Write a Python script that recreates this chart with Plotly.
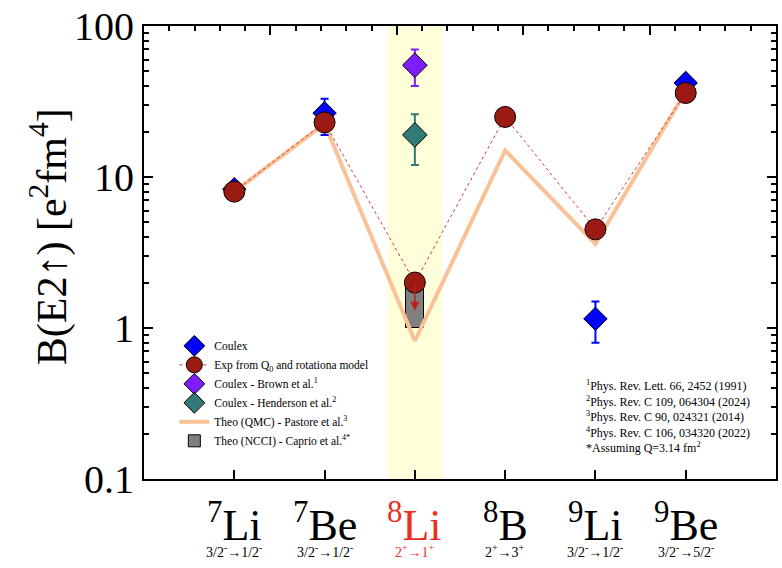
import plotly.graph_objects as go
import math

# ---------------- data ----------------
nuclei = ["<sup>7</sup>Li", "<sup>7</sup>Be", "<sup>8</sup>Li", "<sup>8</sup>B", "<sup>9</sup>Li", "<sup>9</sup>Be"]
transitions = ["3/2<sup>-</sup>→1/2<sup>-</sup>", "3/2<sup>-</sup>→1/2<sup>-</sup>", "2<sup>+</sup>→1<sup>+</sup>",
               "2<sup>+</sup>→3<sup>+</sup>", "3/2<sup>-</sup>→1/2<sup>-</sup>", "3/2<sup>-</sup>→5/2<sup>-</sup>"]
xpos = [1, 2, 3, 4, 5, 6]

coulex = [8.3, 26.5, None, None, 1.15, 42.0]
coulex_err_plus = [0, 6.5, 0, 0, 0.35, 0]
coulex_err_minus = [0, 7.5, 0, 0, 0.35, 0]

exp_q0 = [8.0, 23.0, 2.0, 25.0, 4.5, 36.0]
exp_li8_limit = 1.3

brown_val = [55.0]
brown_err_plus = [15.0]
brown_err_minus = [15.0]

henderson_val = [19.0]
henderson_err_plus = [7.0]
henderson_err_minus = [7.0]

qmc = [8.0, 22.5, 0.82, 15.0, 3.6, 37.0]

ncci_low = [1.0]
ncci_high = [1.95]

top_axis_range = [0, 7]
top_major_step = 1.4
top_minor_step = 0.28

highlight_index = 2

# ---------------- styles ----------------
serif = "Liberation Serif"
blue = "rgb(0,0,255)"
darkred = "rgb(155,27,20)"
purple = "rgb(125,30,250)"
teal = "rgb(50,122,120)"
orange = "rgb(250,192,150)"
red_label = "rgb(235,45,35)"

fig = go.Figure()

hx = xpos[highlight_index]
fig.add_shape(type="rect", xref="x", yref="paper", x0=hx - 0.3, x1=hx + 0.3, y0=0, y1=1,
              fillcolor="rgb(255,255,218)", line=dict(width=0), layer="below")

# QMC (drawn first, behind)
fig.add_trace(go.Scatter(
    x=xpos, y=qmc, mode="lines", name="Theo (QMC) - Pastore et al.<sup>3</sup>", legendrank=5,
    line=dict(color=orange, width=4),
))

# NCCI box
fig.add_trace(go.Bar(
    x=[xpos[highlight_index]], y=[ncci_high[0] - ncci_low[0]], base=ncci_low, width=0.2,
    name="Theo (NCCI) - Caprio et al.<sup>4*</sup>", legendrank=6,
    marker=dict(color="rgb(128,128,128)", line=dict(color="black", width=1)),
))

# Coulex
fig.add_trace(go.Scatter(
    x=xpos, y=coulex, mode="markers", name="Coulex", legendrank=1,
    marker=dict(symbol="diamond", size=18, color=blue, line=dict(color="black", width=1)),
    error_y=dict(type="data", symmetric=False, array=coulex_err_plus, arrayminus=coulex_err_minus,
                 color=blue, thickness=2, width=4),
))

# Exp from Q0
fig.add_trace(go.Scatter(
    x=xpos, y=exp_q0, mode="lines+markers", name="Exp from Q<sub>0</sub> and rotationa model", legendrank=2,
    line=dict(color="rgb(205,60,55)", width=1, dash="dot"),
    marker=dict(symbol="circle", size=21, color=darkred, line=dict(color="black", width=1)),
))

# Brown
fig.add_trace(go.Scatter(
    x=[xpos[highlight_index]], y=brown_val, mode="markers", name="Coulex - Brown et al.<sup>1</sup>", legendrank=3,
    marker=dict(symbol="diamond", size=19, color=purple, line=dict(color="black", width=1)),
    error_y=dict(type="data", symmetric=False, array=brown_err_plus, arrayminus=brown_err_minus,
                 color=purple, thickness=2, width=4),
))

# Henderson
fig.add_trace(go.Scatter(
    x=[xpos[highlight_index]], y=henderson_val, mode="markers", name="Coulex - Henderson et al.<sup>2</sup>",
    legendrank=4,
    marker=dict(symbol="diamond", size=19, color=teal, line=dict(color="black", width=1)),
    error_y=dict(type="data", symmetric=False, array=henderson_err_plus, arrayminus=henderson_err_minus,
                 color=teal, thickness=2, width=4),
))

# trace carrying the top axis
fig.add_trace(go.Scatter(x=top_axis_range, y=[1, 1], xaxis="x2", yaxis="y", mode="lines",
                         line=dict(width=0, color="rgba(0,0,0,0)"), showlegend=False, hoverinfo="skip"))

# upper-limit arrow at 8Li
fig.add_annotation(x=xpos[highlight_index], y=math.log10(exp_li8_limit), ax=xpos[highlight_index],
                   ay=math.log10(exp_q0[highlight_index]), xref="x", yref="y", axref="x", ayref="y",
                   showarrow=True, arrowhead=2, arrowsize=1.2, arrowwidth=1.5, arrowcolor="rgb(190,30,30)",
                   text="")

# x category labels
for i, (nuc, tr) in enumerate(zip(nuclei, transitions)):
    col = red_label if i == highlight_index else "black"
    fig.add_annotation(x=xpos[i], y=-0.095, xref="x", yref="paper", text=nuc, showarrow=False,
                       font=dict(family=serif, size=44, color=col), yanchor="middle")
    fig.add_annotation(x=xpos[i], y=-0.16, xref="x", yref="paper", text=tr, showarrow=False,
                       font=dict(family=serif, size=14, color=col), yanchor="middle")

# y title
fig.add_annotation(x=-0.151, y=0.535, xref="paper", yref="paper", xanchor="center", yanchor="middle",
                   text="B(E2↑) [e<sup>2</sup>fm<sup>4</sup>]",
                   textangle=-90, showarrow=False, font=dict(family=serif, size=42, color="black"))

# references
fig.add_annotation(x=0.696, y=0.137, xref="paper", yref="paper", xanchor="left", yanchor="middle", align="left",
                   text="<sup>1</sup>Phys. Rev. Lett. 66, 2452 (1991)<br><sup>2</sup>Phys. Rev. C 109, 064304 (2024)"
                        "<br><sup>3</sup>Phys. Rev. C 90, 024321 (2014)<br><sup>4</sup>Phys. Rev. C 106, 034320 (2022)"
                        "<br>*Assuming Q=3.14 fm<sup>2</sup>",
                   showarrow=False, font=dict(family=serif, size=12, color="black"))

fig.update_layout(
    width=782, height=568,
    margin=dict(l=144, r=4, t=26, b=89),
    paper_bgcolor="white", plot_bgcolor="white",
    showlegend=True,
    legend=dict(x=0.048, y=0.326, xanchor="left", yanchor="top", bgcolor="rgba(0,0,0,0)",
                font=dict(family=serif, size=11.5, color="black"), traceorder="normal",
                itemsizing="trace", tracegroupgap=0),
    xaxis=dict(range=[0, 7], tickvals=xpos, ticktext=[""] * 6, ticks="inside", ticklen=9, tickwidth=2,
               tickcolor="black", showline=True, linecolor="black", linewidth=2, mirror=False,
               showgrid=False, zeroline=False),
    xaxis2=dict(range=top_axis_range, overlaying="x", side="top", anchor="y", tickmode="linear",
                tick0=top_axis_range[0], dtick=top_major_step, ticks="inside",
                ticklen=9, tickwidth=2, tickcolor="black", showticklabels=False, showline=True,
                linecolor="black", linewidth=2, showgrid=False, zeroline=False,
                minor=dict(dtick=top_minor_step, ticks="inside", ticklen=5, tickwidth=1.5, tickcolor="black")),
    yaxis=dict(type="log", range=[-1, 2], tickvals=[0.1, 1, 10, 100], ticktext=["0.1", "1", "10", "100"],
               ticks="inside", ticklen=9, tickwidth=2, tickcolor="black", showline=True, linecolor="black",
               linewidth=2, mirror="ticks", showgrid=False, zeroline=False,
               tickfont=dict(family=serif, size=40, color="black"),
               minor=dict(tickvals=[0.2, 0.3, 0.4, 0.5, 0.6, 0.7, 0.8, 0.9, 2, 3, 4, 5, 6, 7, 8, 9,
                                    20, 30, 40, 50, 60, 70, 80, 90],
                          ticks="inside", ticklen=5, tickwidth=1.5, tickcolor="black")),
    bargap=0,
)

fig.write_html("out.html")
